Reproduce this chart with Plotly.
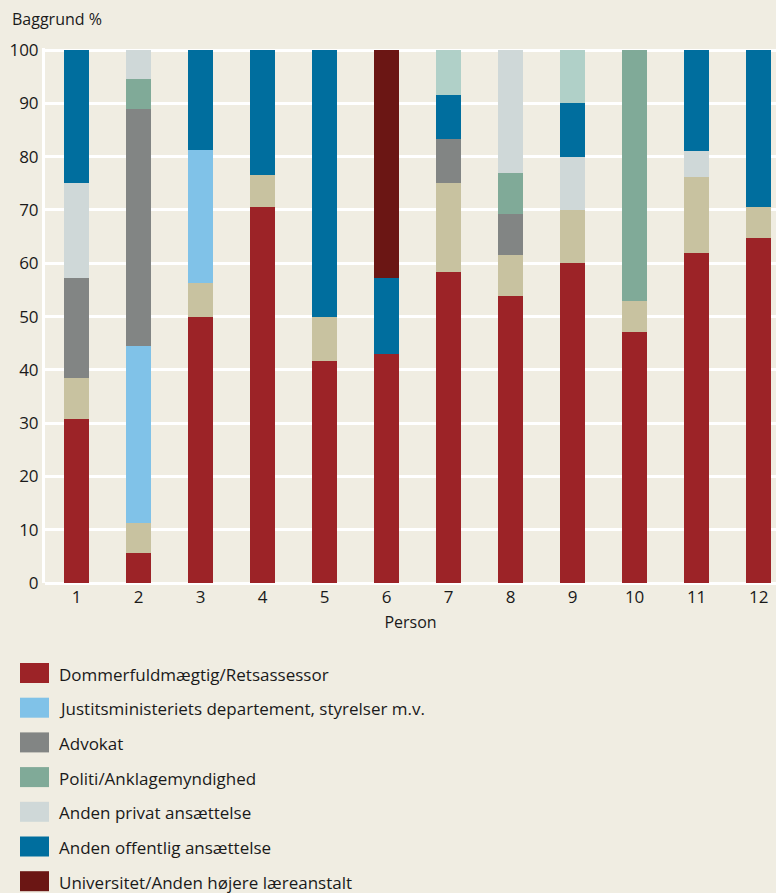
import plotly.graph_objects as go

persons = [1, 2, 3, 4, 5, 6, 7, 8, 9, 10, 11, 12]

dommerfuldmaegtig = [30.8, 5.6, 50.0, 70.6, 41.7, 42.9, 58.3, 53.8, 60.0, 47.1, 61.9, 64.7]
uoplyst_tan = [7.7, 5.6, 6.25, 5.9, 8.3, 0, 16.7, 7.7, 10.0, 5.9, 14.3, 5.9]
justitsministeriet = [0, 33.3, 25.0, 0, 0, 0, 0, 0, 0, 0, 0, 0]
advokat = [18.8, 44.4, 0, 0, 0, 0, 8.3, 7.7, 0, 0, 0, 0]
politi = [0, 5.6, 0, 0, 0, 0, 0, 7.7, 0, 47.1, 0, 0]
anden_privat = [17.7, 5.5, 0, 0, 0, 0, 0, 23.1, 10.0, 0, 4.8, 0]
anden_offentlig = [25.0, 0, 18.75, 23.5, 50.0, 14.3, 8.3, 0, 10.0, 0, 19.0, 29.4]
universitet = [0, 0, 0, 0, 0, 42.9, 0, 0, 0, 0, 0, 0]
oevrigt_mint = [0, 0, 0, 0, 0, 0, 8.4, 0, 10.0, 0, 0, 0]

# (name, values, colour, shown in legend)
series = [
    ("Dommerfuldmægtig/Retsassessor", dommerfuldmaegtig, "#9c2327", True),
    ("Andet", uoplyst_tan, "#c8c2a0", False),
    ("Justitsministeriets departement, styrelser m.v.", justitsministeriet, "#80c2e8", True),
    ("Advokat", advokat, "#828584", True),
    ("Politi/Anklagemyndighed", politi, "#80aa98", True),
    ("Anden privat ansættelse", anden_privat, "#cfd8d8", True),
    ("Anden offentlig ansættelse", anden_offentlig, "#006e9e", True),
    ("Universitet/Anden højere læreanstalt", universitet, "#6b1614", True),
    ("Øvrigt", oevrigt_mint, "#b0d0c8", False),
]

y_ticks = [0, 10, 20, 30, 40, 50, 60, 70, 80, 90, 100]

BG = "#f0ede2"
FONT = "Open Sans"
W, H = 776, 893
ML, MR, MT, MB = 45, 0, 48, 310

fig = go.Figure()
for name, vals, col, _ in series:
    fig.add_trace(go.Bar(
        x=persons, y=vals, name=name, marker=dict(color=col, line=dict(width=0)),
        width=0.403, showlegend=False,
    ))

# Custom legend (large swatches) below the chart
ph = H - MT - MB
pw = W - ML - MR
def py_to_paper(py):
    return (H - MB - py) / ph
def px_to_paper(px):
    return (px - ML) / pw

legend_items = [(n, c) for n, v, c, show in series if show]
shapes = []
annotations = []
for i, (name, col) in enumerate(legend_items):
    cy = 673 + i * 34.7
    shapes.append(dict(
        type="rect", xref="paper", yref="paper",
        x0=px_to_paper(20), x1=px_to_paper(49),
        y0=py_to_paper(cy + 10), y1=py_to_paper(cy - 10),
        fillcolor=col, line=dict(width=0), layer="above",
    ))
    annotations.append(dict(
        xref="paper", yref="paper", x=px_to_paper(57), y=py_to_paper(cy + 1),
        text=name, showarrow=False, xanchor="left", yanchor="middle",
        font=dict(family=FONT, size=17, color="#1a1a1a"),
    ))

annotations.append(dict(
    xref="paper", yref="paper", x=px_to_paper(10), y=py_to_paper(19),
    text="Baggrund %", showarrow=False, xanchor="left", yanchor="middle",
    font=dict(family=FONT, size=16, color="#1a1a1a"),
))

fig.update_layout(
    width=W, height=H,
    margin=dict(l=ML, r=MR, t=MT, b=MB, pad=0),
    paper_bgcolor=BG, plot_bgcolor=BG,
    barmode="stack", bargap=0,
    showlegend=False,
    font=dict(family=FONT, size=17, color="#1a1a1a"),
    xaxis=dict(
        range=[0.492, 12.28], tickmode="array", tickvals=persons,
        ticktext=[str(p) for p in persons], showgrid=False, zeroline=False,
        showline=False, ticks="", tickfont=dict(size=17), ticklabelstandoff=2,
        title=dict(text="Person", font=dict(size=16), standoff=9),
    ),
    yaxis=dict(
        range=[0, 100.4], tickmode="array", tickvals=y_ticks,
        showgrid=True, gridcolor="white", gridwidth=3,
        zeroline=True, zerolinecolor="white", zerolinewidth=3,
        showline=True, linecolor="white", linewidth=3,
        ticks="", tickfont=dict(size=17),
    ),
    shapes=shapes, annotations=annotations,
)

fig.write_html(
    "out.html",
    config={"displayModeBar": False},
    post_script="document.body.style.margin='0';document.body.style.overflow='hidden';",
)
